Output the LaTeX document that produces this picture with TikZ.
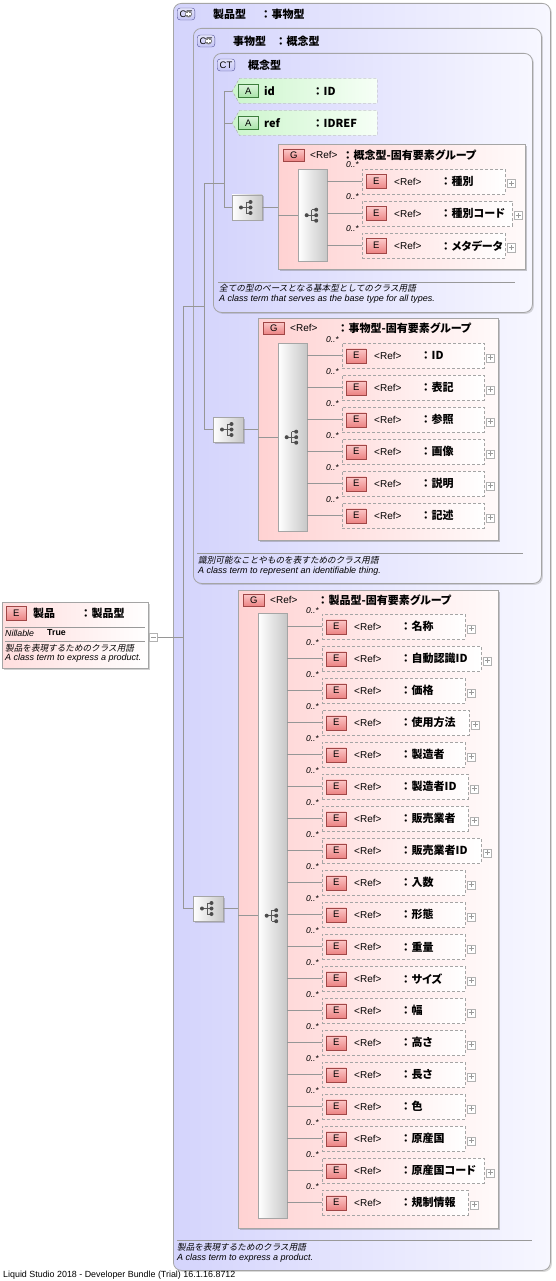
\documentclass[tikz,border=0pt]{standalone}
\usepackage{fontspec}
\setmainfont{Liberation Sans}
\newfontfamily\jp[RawFeature=+palt]{Noto Sans CJK JP}
\newfontfamily\jpit[FakeSlant=0.2]{Noto Sans CJK JP}
\usetikzlibrary{shadows,shapes.symbols}

\definecolor{ctleft}{RGB}{212,212,252}
\definecolor{ctright}{RGB}{247,247,255}
\definecolor{grpleft}{RGB}{255,210,210}
\definecolor{grpright}{RGB}{255,250,250}
\definecolor{elleft}{RGB}{255,222,222}
\definecolor{bordergray}{RGB}{165,165,165}
\definecolor{linegray}{RGB}{150,150,150}
\definecolor{ebadgetop}{RGB}{252,200,200}
\definecolor{ebadgebot}{RGB}{236,132,132}
\definecolor{ebadgedraw}{RGB}{160,70,70}
\definecolor{ctbadgefill}{RGB}{196,196,245}
\definecolor{ctbadgedraw}{RGB}{80,80,150}
\definecolor{abadgefill}{RGB}{168,228,168}
\definecolor{abadgedraw}{RGB}{60,125,60}
\definecolor{attleft}{RGB}{204,245,204}
\definecolor{attright}{RGB}{246,255,246}

\tikzset{
  treeico/.pic={
    \draw[black!65, line width=0.9pt] (-6,0) -- (-1,0) (-1,-5.5) -- (-1,5.5)
      (-1,-5.5) -- (3.5,-5.5) (-1,5.5) -- (3.5,5.5) (-1,0) -- (3.5,0);
    \fill[black!70] (-6,0) circle (2pt) (3.5,-5.5) circle (2pt)
      (3.5,0) circle (2pt) (3.5,5.5) circle (2pt);
  }
}

% one referenced element of a group
\newcommand{\elrow}[5]{%
  \node[elbox, minimum width=#4pt, anchor=north west] (#1) at (#2,#3) {};
  \node[ebadge, anchor=west] (#1-b) at ([xshift=4pt]#1.west) {E};
  \node[reftext, anchor=west] at ([xshift=32pt]#1.west) {<Ref>};
  \node[nametext, anchor=west] at ([xshift=81pt]#1.west) {：\hspace{3pt}#5};
  \node[plusbox] (#1-p) at ([xshift=6pt,yshift=-2pt]#1.east) {};
  \node[multtext, anchor=base east] at ([xshift=-3pt,yshift=1pt]#1.north west) {0..*};
}

\begin{document}
\begin{tikzpicture}[x=1pt, y=-1pt,
    ctbox/.style={draw=bordergray, rounded corners=8pt, left color=ctleft, right color=ctright,
      line width=0.8pt, inner sep=0pt},
    grpbox/.style={draw=bordergray, left color=grpleft, right color=grpright, inner sep=0pt,
      drop shadow={shadow xshift=2pt, shadow yshift=-2pt, opacity=.35, fill=black!60}},
    elbox/.style={draw=bordergray, dash pattern=on 3pt off 2pt, left color=elleft, right color=white,
      minimum height=25pt, inner sep=0pt},
    attbox/.style={shape=signal, signal to=west, signal pointer angle=120, draw=bordergray,
      dash pattern=on 3pt off 2pt, left color=attleft, right color=attright,
      minimum width=145pt, minimum height=25pt, inner sep=0pt},
    ebadge/.style={draw=ebadgedraw, top color=ebadgetop, bottom color=ebadgebot,
      minimum width=20pt, minimum height=14pt, inner sep=0pt, font=\fontsize{9.5}{10}\selectfont},
    gbadge/.style={ebadge, minimum width=21pt, minimum height=12pt},
    abadge/.style={draw=abadgedraw, top color=abadgefill!40!white, bottom color=abadgefill,
      minimum width=20pt, minimum height=13pt, inner sep=0pt, font=\fontsize{9.5}{10}\selectfont},
    ctbadge/.style={draw=ctbadgedraw, rounded corners=3pt, top color=ctbadgefill!45!white,
      bottom color=ctbadgefill, minimum height=12pt, inner xsep=2.5pt, inner ysep=0pt,
      font=\fontsize{9.5}{10}\selectfont},
    plusbox/.style={draw=black!30, fill=white, minimum size=8pt, inner sep=0pt,
      path picture={\draw[black!40, line width=0.5pt]
        ([xshift=-2.5pt]path picture bounding box.center) -- ([xshift=2.5pt]path picture bounding box.center)
        ([yshift=-2.5pt]path picture bounding box.center) -- ([yshift=2.5pt]path picture bounding box.center);}},
    minusbox/.style={draw=black!30, fill=white, minimum size=8pt, inner sep=0pt,
      path picture={\draw[black!40, line width=0.5pt]
        ([xshift=-2.5pt]path picture bounding box.center) -- ([xshift=2.5pt]path picture bounding box.center);}},
    seqbox/.style={draw=bordergray, left color=white, right color=black!22, inner sep=0pt,
      minimum width=30pt, minimum height=25pt,
      drop shadow={shadow xshift=1.5pt, shadow yshift=-1.5pt, opacity=.3, fill=black!60}},
    barbox/.style={draw=bordergray, left color=white, right color=black!22, inner sep=0pt,
      minimum width=29pt},
    reftext/.style={inner sep=0pt, font=\fontsize{10}{11}\selectfont},
    nametext/.style={inner sep=0pt, font=\jp\bfseries\fontsize{11}{12}\selectfont},
    multtext/.style={inner sep=0pt, font=\itshape\fontsize{8.5}{9}\selectfont},
    descjp/.style={inner sep=0pt, anchor=west, font=\jpit\fontsize{8.6}{9}\selectfont},
    descen/.style={inner sep=0pt, anchor=west, font=\itshape\fontsize{9}{10}\selectfont},
    conn/.style={draw=linegray, line width=0.6pt},
    sepline/.style={draw=black!40, line width=0.6pt}
  ]
  \useasboundingbox (0,0) rectangle (555,1281);

  % nested complex types
  \node[ctbox, minimum width=377pt, minimum height=1267pt, anchor=north west,
    drop shadow={shadow xshift=1.5pt, shadow yshift=-1.5pt, opacity=.25, fill=black!60}] (ctS) at (173,3) {};
  \node[ctbox, minimum width=348pt, minimum height=555pt, anchor=north west,
    drop shadow={shadow xshift=1.5pt, shadow yshift=-1.5pt, opacity=.25, fill=black!60}] (ctJ) at (193,28) {};
  \node[ctbox, minimum width=319pt, minimum height=259pt, anchor=north west,
    drop shadow={shadow xshift=1.5pt, shadow yshift=-1.5pt, opacity=.25, fill=black!60}] (ctK) at (213,53) {};

  \node[ctbadge, anchor=west] (ctS-b) at ([xshift=4pt,yshift=-11pt]ctS.north west) {CT\hspace{10pt}};
  \fill[black!50] ([xshift=-6.5pt]ctS-b.east) circle (3.5pt);
  \draw[white, line width=1.1pt] ([xshift=-8.8pt]ctS-b.east) -- ([xshift=-4.2pt]ctS-b.east)
    ([xshift=-6.5pt,yshift=2.3pt]ctS-b.east) -- ([xshift=-6.5pt,yshift=-2.3pt]ctS-b.east);
  \node[nametext, anchor=west] at ([xshift=40pt,yshift=-11pt]ctS.north west) {製品型};
  \node[nametext, anchor=west] at ([xshift=90pt,yshift=-11pt]ctS.north west) {：\hspace{3pt}事物型};

  \node[ctbadge, anchor=west] (ctJ-b) at ([xshift=4pt,yshift=-13pt]ctJ.north west) {CT\hspace{10pt}};
  \fill[black!50] ([xshift=-6.5pt]ctJ-b.east) circle (3.5pt);
  \draw[white, line width=1.1pt] ([xshift=-8.8pt]ctJ-b.east) -- ([xshift=-4.2pt]ctJ-b.east)
    ([xshift=-6.5pt,yshift=2.3pt]ctJ-b.east) -- ([xshift=-6.5pt,yshift=-2.3pt]ctJ-b.east);
  \node[nametext, anchor=west] at ([xshift=40pt,yshift=-13pt]ctJ.north west) {事物型};
  \node[nametext, anchor=west] at ([xshift=85pt,yshift=-13pt]ctJ.north west) {：\hspace{3pt}概念型};

  \node[ctbadge, anchor=west] (ctK-b) at ([xshift=4pt,yshift=-12pt]ctK.north west) {CT};
  \node[nametext, anchor=west] at ([xshift=35pt,yshift=-12pt]ctK.north west) {概念型};

  % attributes
  \node[attbox, anchor=west] (attid) at (232,91) {};
  \node[abadge, anchor=west] at ([xshift=6pt]attid.west) {A};
  \node[nametext, anchor=west] at ([xshift=32pt]attid.west) {id};
  \node[nametext, anchor=west] at ([xshift=83pt]attid.west) {：\hspace{3pt}ID};
  \node[attbox, anchor=west] (attref) at (232,123) {};
  \node[abadge, anchor=west] at ([xshift=6pt]attref.west) {A};
  \node[nametext, anchor=west] at ([xshift=32pt]attref.west) {ref};
  \node[nametext, anchor=west] at ([xshift=83pt]attref.west) {：\hspace{3pt}IDREF};

  % sequence icons
  \node[seqbox] (seqK) at (247,207.5) {};
  \pic at (seqK.center) {treeico};
  \node[seqbox] (seqJ) at (228,429.5) {};
  \pic at (seqJ.center) {treeico};
  \node[seqbox] (seqS) at (208,908.5) {};
  \pic at (seqS.center) {treeico};

  \coordinate (spineK) at (224,0);
  \coordinate (spineJ) at (204,0);
  \coordinate (spineS) at (183,0);
  \draw[conn] (attid.west) -| (spineK |- seqK.west) -- (seqK.west);
  \draw[conn] (attref.west) -- (attref.west -| spineK);
  \draw[conn] (ctK.center -| spineK) -- (ctK.center -| spineJ) |- (seqJ.west);
  \draw[conn] (ctJ.center -| spineJ) -- (ctJ.center -| spineS) |- (seqS.west);

  % group 1
  \node[grpbox, minimum width=247pt, minimum height=125pt, anchor=north west] (grpK) at (278,144) {};
  \node[gbadge, anchor=west] at ([xshift=5pt,yshift=-11pt]grpK.north west) {G};
  \node[reftext, anchor=west] at ([xshift=32pt,yshift=-11pt]grpK.north west) {<Ref>};
  \node[nametext, anchor=west] at ([xshift=67pt,yshift=-11pt]grpK.north west) {：\hspace{3pt}概念型-固有要素グループ};
  \node[barbox, minimum height=92pt, anchor=north west] (barK) at (298,169) {};
  \pic at (barK.center) {treeico};
  \draw[conn] (seqK.east) -- (seqK.east -| grpK.west);
  \draw[conn] (grpK.west |- barK.west) -- (barK.west);
  \foreach \nm/\w [count=\i from 0] in {種別/143, 種別コード/150, メタデータ/143} {
    \elrow{k\i}{362}{169+32*\i}{\w}{\nm}
    \draw[conn] (barK.east |- k\i.west) -- (k\i.west);
  }
  \draw[sepline] (218,282) -- (515,282);
  \node[descjp] at (219,288) {全ての型のベースとなる基本型としてのクラス用語};
  \node[descen] at (219,299) {A class term that serves as the base type for all types.};

  % group 2
  \node[grpbox, minimum width=240pt, minimum height=222pt, anchor=north west] (grpJ) at (258,318) {};
  \node[gbadge, anchor=west] at ([xshift=5pt,yshift=-10pt]grpJ.north west) {G};
  \node[reftext, anchor=west] at ([xshift=32pt,yshift=-10pt]grpJ.north west) {<Ref>};
  \node[nametext, anchor=west] at ([xshift=82pt,yshift=-10pt]grpJ.north west) {：\hspace{3pt}事物型-固有要素グループ};
  \node[barbox, minimum height=188pt, anchor=north west] (barJ) at (278,343) {};
  \pic at (barJ.center) {treeico};
  \draw[conn] (seqJ.east) -- (seqJ.east -| grpJ.west);
  \draw[conn] (grpJ.west |- barJ.west) -- (barJ.west);
  \foreach \nm [count=\i from 0] in {ID, 表記, 参照, 画像, 説明, 記述} {
    \elrow{j\i}{342}{343+32*\i}{142}{\nm}
    \draw[conn] (barJ.east |- j\i.west) -- (j\i.west);
  }
  \draw[sepline] (197,553) -- (523,553);
  \node[descjp] at (198,560) {識別可能なことやものを表すためのクラス用語};
  \node[descen] at (198,571) {A class term to represent an identifiable thing.};

  % group 3
  \node[grpbox, minimum width=260pt, minimum height=638pt, anchor=north west] (grpS) at (238,590) {};
  \node[gbadge, anchor=west] at ([xshift=5pt,yshift=-10pt]grpS.north west) {G};
  \node[reftext, anchor=west] at ([xshift=32pt,yshift=-10pt]grpS.north west) {<Ref>};
  \node[nametext, anchor=west] at ([xshift=82pt,yshift=-10pt]grpS.north west) {：\hspace{3pt}製品型-固有要素グループ};
  \node[barbox, minimum height=605pt, anchor=north west] (barS) at (258,613) {};
  \pic at (barS.center) {treeico};
  \draw[conn] (seqS.east) -- (seqS.east -| grpS.west);
  \draw[conn] (grpS.west |- barS.west) -- (barS.west);
  \foreach \nm/\w [count=\i from 0] in {名称/143, 自動認識ID/159, 価格/143, 使用方法/147,
      製造者/143, 製造者ID/146, 販売業者/146, 販売業者ID/159, 入数/143, 形態/143,
      重量/143, サイズ/143, 幅/143, 高さ/143, 長さ/143, 色/143, 原産国/143,
      原産国コード/162, 規制情報/146} {
    \elrow{s\i}{322}{614+32*\i}{\w}{\nm}
    \draw[conn] (barS.east |- s\i.west) -- (s\i.west);
  }
  \draw[sepline] (177,1240) -- (532,1240);
  \node[descjp] at (177,1247) {製品を表現するためのクラス用語};
  \node[descen] at (177,1258) {A class term to express a product.};

  % the element itself
  \node[draw=bordergray, left color=elleft, right color=white, minimum width=146pt, minimum height=66pt,
    inner sep=0pt, anchor=north west,
    drop shadow={shadow xshift=1.5pt, shadow yshift=-1.5pt, opacity=.3, fill=black!60}] (prod) at (2,602) {};
  \node[ebadge, anchor=west] at ([xshift=4pt,yshift=-11pt]prod.north west) {E};
  \node[nametext, anchor=west] at ([xshift=31pt,yshift=-11pt]prod.north west) {製品};
  \node[nametext, anchor=west] at ([xshift=81pt,yshift=-11pt]prod.north west) {：\hspace{3pt}製品型};
  \draw[sepline] ([xshift=3pt,yshift=-25pt]prod.north west) -- ([xshift=-3pt,yshift=-25pt]prod.north east);
  \node[inner sep=0pt, anchor=west, font=\itshape\fontsize{8.8}{9}\selectfont] at ([xshift=3pt,yshift=-31pt]prod.north west) {Nillable};
  \node[inner sep=0pt, anchor=west, font=\bfseries\fontsize{8.8}{9}\selectfont] at ([xshift=45pt,yshift=-31pt]prod.north west) {True};
  \draw[sepline] ([xshift=3pt,yshift=-39pt]prod.north west) -- ([xshift=-3pt,yshift=-39pt]prod.north east);
  \node[descjp] at ([xshift=3pt,yshift=-46pt]prod.north west) {製品を表現するためのクラス用語};
  \node[descen] at ([xshift=3pt,yshift=-56pt]prod.north west) {A class term to express a product.};
  \node[minusbox] (prodm) at ([xshift=5pt,yshift=-2pt]prod.east) {};
  \draw[conn] (prodm.east) -- (prodm.east -| spineS);

  \node[inner sep=0pt, anchor=west, font=\fontsize{8.9}{9}\selectfont] (footer) at (3,1275)
    {Liquid Studio 2018 - Developer Bundle (Trial) 16.1.16.8712};
\end{tikzpicture}
\end{document}
